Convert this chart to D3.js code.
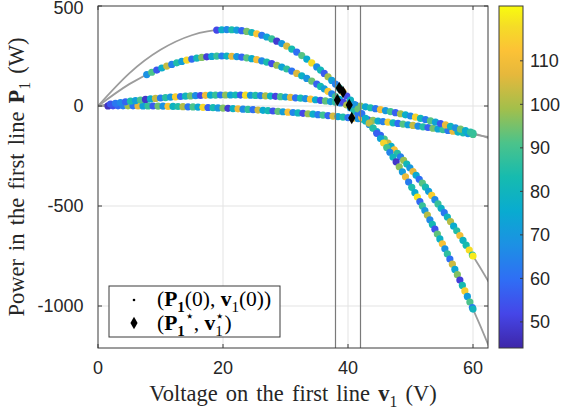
<!DOCTYPE html>
<html>
<head>
<meta charset="utf-8">
<script src="https://cdn.jsdelivr.net/npm/d3@7"></script>
<style>
  body { margin: 0; background: #fff; }
</style>
</head>
<body>
<div id="chart"></div>
<script>
// ---- data ----
const xTicks = [0, 20, 40, 60];
const yTicks = [-1000, -500, 0, 500];
const cTicks = [50, 60, 70, 80, 90, 100, 110];
const xDomain = [0, 62.4];
const yDomain = [-1210, 500];
const cDomain = [44, 122.6];
const markerLines = [38, 42];

// gray reference curves, [v, P]
const curve1 = [[0,0],[5,162.9],[10,280.8],[15,353.7],[20,381.6],[25,364.5],[30,302.4],[35,195.3],[40,43.2],[45,-153.9],[50,-396],[55,-683.1],[60,-1015.2],[62.5,-1198]];
const curve2 = [[0,0],[5,109.4],[10,187.5],[15,234.4],[20,250],[25,234.4],[30,187.5],[35,109.4],[40,0],[45,-140.6],[50,-312.5],[55,-515.6],[60,-750],[62.5,-878.9]];
const curve3 = [[0,0],[5,23.1],[10,40],[15,50.6],[20,55],[25,53.1],[30,45],[35,30.6],[40,10],[45,-16.9],[50,-50],[55,-89.4],[60,-135],[62.5,-160.2]];
const curve4 = [[0,0],[5,0.8],[10,-0.7],[15,-4.5],[20,-10.6],[25,-19],[30,-29.7],[35,-42.7],[40,-58],[45,-75.6],[50,-95.5],[55,-117.7],[60,-142.2],[62.5,-155.3]];

// initial points (v, P, colour value)
const band1 = [[19.0,379.6,52],[19.8,381.3,78],[20.6,381.9,66],[21.4,381.3,84],[22.2,379.6,71],[23.0,376.7,58],[23.8,372.7,95],[24.6,367.5,80],[25.4,361.2,113],[26.2,353.7,62],[27.0,345.1,74],[27.8,335.3,88],[28.6,324.3,49],[29.4,312.2,70],[30.2,299.0,105],[31.0,284.6,83],[31.8,269.0,60],[32.6,252.3,92],[33.4,234.5,76],[34.2,215.5,118],[35.0,195.3,67],
  [35.6,179.4,81],[36.2,162.9,56],[36.8,145.7,99],[37.4,127.9,72],[38.0,109.4,64],[38.6,90.3,86],[39.2,70.6,110],[39.8,50.1,53],[40.4,29.1,79],[41.0,7.4,69],[41.6,-15.0,94],[42.2,-38.0,61],[42.8,-61.6,77],[43.4,-85.9,102],[44.0,-110.9,85],[44.6,-136.5,57],[45.2,-162.7,73],
  [45.7,-185.1,116],[46.2,-207.9,90],[46.7,-231.2,65],[47.2,-254.9,80],[47.7,-279.0,48],[48.2,-303.7,97],[48.7,-328.7,71],[49.2,-354.2,108],[49.7,-380.2,63],[50.2,-406.6,84],[50.7,-433.5,75],
  [51.1,-455.3,119],[51.5,-477.4,59],[51.9,-499.8,88],[52.3,-522.5,70],[52.7,-545.4,101],[53.1,-568.7,66],[53.5,-592.2,82],[53.9,-616.1,54],[54.3,-640.2,93],[54.7,-664.6,78],[55.1,-689.3,112],[55.5,-714.3,68],[55.9,-739.6,87],[56.3,-765.1,60],[56.7,-791.0,104],[57.1,-817.1,74],[57.5,-843.5,96],[57.9,-870.2,50],[58.3,-897.2,83],[58.7,-924.5,115],[59.1,-952.1,71],[59.5,-980.0,91],[59.9,-1008.1,62],[60.0,-1015.2,80]];

const band2 = [[7.8,157.0,68],[8.6,168.8,91],[9.4,179.8,55],[10.2,190.0,77],[11.0,199.4,103],[11.8,208.0,64],[12.6,215.8,85],[13.4,222.8,72],[14.2,229.0,117],[15.0,234.4,59],[15.8,239.0,81],[16.6,242.8,96],[17.4,245.8,50],[18.2,248.0,74],[19.0,249.4,88],[19.8,250.0,63],[20.6,249.8,79],[21.4,248.8,107],[22.2,247.0,70],[23.0,244.4,58],[23.8,241.0,92],[24.6,236.8,76],[25.4,231.8,111],[26.2,226.0,66],[27.0,219.4,84],[27.8,212.0,53],[28.6,203.8,98],[29.4,194.8,73],[30.2,185.0,87],[31.0,174.4,61],[31.8,163.0,106],[32.6,150.8,78],[33.4,137.8,69],[34.2,124.0,94],[35.0,109.4,57],
  [35.6,97.9,83],[36.2,86.0,72],[36.8,73.6,114],[37.4,60.8,65],[38.0,47.5,89],[38.6,33.8,76],[39.2,19.6,52],[39.8,5.0,100],[40.4,-10.1,71],[41.0,-25.6,85],[41.6,-41.6,62],[42.2,-58.0,109],[42.8,-74.9,80],[43.4,-92.2,67],[44.0,-110.0,95],[44.6,-128.2,74],[45.2,-146.9,58],[45.8,-166.0,90],[46.4,-185.6,103],
  [46.9,-202.3,77],[47.4,-219.2,112],[47.9,-236.5,86],[48.4,-254.1,64],[48.9,-272.0,98],[49.4,-290.2,81],[49.9,-308.8,70],[50.4,-327.6,107],[50.9,-346.8,75],[51.4,-366.2,60],[51.9,-386.0,92],[52.4,-406.1,83],[52.9,-426.5,72],[53.4,-447.2,115],[53.9,-468.3,66],[54.4,-489.6,88],[54.9,-511.3,78],[55.4,-533.2,62],[55.9,-555.5,80],[56.4,-578.1,101],[56.9,-601.0,76],[57.4,-624.2,85],[57.9,-647.8,110],[58.4,-671.6,79],[58.9,-695.8,83],[59.4,-720.2,118],[59.9,-745.0,82],[60.0,-750.0,120]];

const band3 = [[2.0,10.0,55],[2.8,13.7,62],[3.6,17.3,66],[4.4,20.7,58],[5.2,23.9,84],[6.0,27.0,72],[6.8,29.9,91],[7.6,32.7,48],[8.4,35.3,77],[9.2,37.7,103],[10.0,40.0,63],[10.8,42.1,86],[11.6,44.1,70],[12.4,45.9,115],[13.2,47.5,59],[14.0,49.0,80],[14.8,50.3,94],[15.6,51.5,67],[16.4,52.5,52],[17.2,53.3,109],[18.0,54.0,75],[18.8,54.5,88],[19.6,54.9,61],[20.4,55.1,97],[21.2,55.1,73],[22.0,55.0,82],[22.8,54.7,56],[23.6,54.3,118],[24.4,53.7,69],[25.2,52.9,85],[26.0,52.0,64],[26.8,50.9,100],[27.6,49.7,78],[28.4,48.3,51],[29.2,46.7,90],[30.0,45.0,72],[30.8,43.1,106],[31.6,41.1,60],[32.4,38.9,83],[33.2,36.5,68],[34.0,34.0,112],[34.8,31.3,76],[35.6,28.5,54],[36.4,25.5,93],[37.2,22.3,71],[38.0,19.0,87],[38.8,15.5,65],[39.6,11.9,104],[40.4,8.1,79],[41.2,4.1,58],[42.0,0.0,96],[42.8,-4.3,74],[43.6,-8.7,84],[44.4,-13.3,62],[45.2,-18.1,111],[46.0,-23.0,70],[46.8,-28.1,89],[47.6,-33.3,57],[48.4,-38.7,99],[49.2,-44.3,77],[50.0,-50.0,66],[50.8,-55.9,116],[51.6,-61.9,81],[52.4,-68.1,63],[53.2,-74.5,92],[54.0,-81.0,73],[54.8,-87.7,55],[55.6,-94.5,108],[56.4,-101.5,80],[57.2,-108.7,68],[58.0,-116.0,95],[58.8,-123.5,76],[59.6,-131.1,86],[60.0,-135.0,88]];

const band4 = [[1.6,0.5,47],[2.4,0.7,53],[3.2,0.8,58],[4.0,0.8,64],[4.8,0.8,99],[5.6,0.7,61],[6.4,0.6,107],[7.2,0.4,72],[8.0,0.2,88],[8.8,-0.1,56],[9.6,-0.5,94],[10.4,-0.9,68],[11.2,-1.4,113],[12.0,-1.9,79],[12.8,-2.5,85],[13.6,-3.2,101],[14.4,-3.9,62],[15.2,-4.7,91],[16.0,-5.5,74],[16.8,-6.4,117],[17.6,-7.4,57],[18.4,-8.4,83],[19.2,-9.5,70],[20.0,-10.6,96],[20.8,-11.8,49],[21.6,-13.0,78],[22.4,-14.3,109],[23.2,-15.7,66],[24.0,-17.1,87],[24.8,-18.6,60],[25.6,-20.2,104],[26.4,-21.8,75],[27.2,-23.4,82],[28.0,-25.1,54],[28.8,-26.9,93],[29.6,-28.8,71],[30.4,-30.7,112],[31.2,-32.6,65],[32.0,-34.6,80],[32.8,-36.7,52],[33.6,-38.8,98],[34.4,-41.0,77],[35.2,-43.3,63],[36.0,-45.6,89],[36.8,-47.9,58],[37.6,-50.4,105],[38.4,-52.9,73],[39.2,-55.4,84],[40.0,-58.0,61],[40.8,-60.7,110],[41.6,-63.4,69],[42.4,-66.2,86],[43.2,-69.0,55],[44.0,-71.9,97],[44.8,-74.9,76],[45.6,-77.9,64],[46.4,-80.9,115],[47.2,-84.1,81],[48.0,-87.3,59],[48.8,-90.5,92],[49.6,-93.8,72],[50.4,-97.2,103],[51.2,-100.6,67],[52.0,-104.1,85],[52.8,-107.6,57],[53.6,-111.3,95],[54.4,-114.9,74],[55.2,-118.6,88],[56.0,-122.4,62],[56.8,-126.3,108],[57.6,-130.2,78],[58.4,-134.1,83],[59.2,-138.1,70],[60.0,-142.2,90]];

// optimal points (v, P)
const optimum = [[38.6,90],[39.2,70],[38.3,30],[40.2,5],[40.6,-60]];

// ---- layout ----
const W = 563, H = 412;
const plot = {left: 98, top: 6, right: 488, bottom: 348};
const cbar = {left: 499, right: 523};

// parula-like colormap
const parula = ["#3e26a8","#4546e8","#2f6ef5","#1d90e4","#09abd0","#16bbaf","#4cc38a","#a3bf4b","#e6b83c","#fcc236","#f5dc27","#f9fb0e"];
const parulaPos = [0, 0.1, 0.2, 0.3, 0.4, 0.5, 0.6, 0.7, 0.8, 0.87, 0.94, 1];

const x = d3.scaleLinear().domain(xDomain).range([plot.left, plot.right]);
const y = d3.scaleLinear().domain(yDomain).range([plot.bottom, plot.top]);
const cNorm = d3.scaleLinear().domain(cDomain).range([0, 1]).clamp(true);
const cmap = d3.scaleLinear().domain(parulaPos).range(parula).interpolate(d3.interpolateRgb);
const color = v => cmap(cNorm(v));

const svg = d3.select("#chart").append("svg")
    .attr("width", W)
    .attr("height", H)
    .style("font-family", "'Liberation Sans', Arial, sans-serif");

svg.append("defs").append("clipPath").attr("id", "plot-clip")
  .append("rect")
    .attr("x", plot.left).attr("y", plot.top)
    .attr("width", plot.right - plot.left)
    .attr("height", plot.bottom - plot.top);

// grid
const grid = svg.append("g").attr("stroke", "#e3e3e3").attr("stroke-width", 1);
xTicks.filter(t => t > xDomain[0]).forEach(t => {
  grid.append("line").attr("x1", x(t)).attr("x2", x(t)).attr("y1", plot.top).attr("y2", plot.bottom);
});
yTicks.filter(t => t < yDomain[1]).forEach(t => {
  grid.append("line").attr("x1", plot.left).attr("x2", plot.right).attr("y1", y(t)).attr("y2", y(t));
});

const inner = svg.append("g").attr("clip-path", "url(#plot-clip)");

// gray curves
const line = d3.line().x(d => x(d[0])).y(d => y(d[1])).curve(d3.curveNatural);
[curve1, curve2, curve3, curve4].forEach(c => {
  inner.append("path")
      .datum(c)
      .attr("d", line)
      .attr("fill", "none")
      .attr("stroke", "#9c9c9c")
      .attr("stroke-width", 1.8);
});

// scatter
[band4, band3, band2, band1].forEach(b => {
  inner.append("g").selectAll("circle")
    .data(b)
    .join("circle")
      .attr("cx", d => x(d[0]))
      .attr("cy", d => y(d[1]))
      .attr("r", 3.6)
      .attr("fill", d => color(d[2]));
});

// vertical marker lines
markerLines.forEach(v => {
  inner.append("line")
      .attr("x1", x(v)).attr("x2", x(v))
      .attr("y1", plot.top).attr("y2", plot.bottom)
      .attr("stroke", "#7a7a7a")
      .attr("stroke-width", 1.2);
});

// optimum diamonds
const diamond = d3.symbol().type(d3.symbolDiamond).size(44);
inner.append("g").selectAll("path")
  .data(optimum)
  .join("path")
    .attr("transform", d => `translate(${x(d[0])},${y(d[1])})`)
    .attr("d", diamond)
    .attr("fill", "#000");

// axes box and ticks (mirrored, inward)
const axisColor = "#3a3a3a";
svg.append("rect")
    .attr("x", plot.left).attr("y", plot.top)
    .attr("width", plot.right - plot.left)
    .attr("height", plot.bottom - plot.top)
    .attr("fill", "none")
    .attr("stroke", axisColor)
    .attr("stroke-width", 1);

const tickLen = 4;
const ticks = svg.append("g").attr("stroke", axisColor).attr("stroke-width", 1);
xTicks.forEach(t => {
  ticks.append("line").attr("x1", x(t)).attr("x2", x(t)).attr("y1", plot.bottom).attr("y2", plot.bottom - tickLen);
  ticks.append("line").attr("x1", x(t)).attr("x2", x(t)).attr("y1", plot.top).attr("y2", plot.top + tickLen);
});
yTicks.forEach(t => {
  ticks.append("line").attr("x1", plot.left).attr("x2", plot.left + tickLen).attr("y1", y(t)).attr("y2", y(t));
  ticks.append("line").attr("x1", plot.right).attr("x2", plot.right - tickLen).attr("y1", y(t)).attr("y2", y(t));
});

// tick labels
svg.append("g").selectAll("text")
  .data(xTicks)
  .join("text")
    .attr("x", d => x(d))
    .attr("y", 374)
    .attr("text-anchor", "middle")
    .attr("font-size", 18)
    .attr("fill", "#262626")
    .text(d => d);

svg.append("g").selectAll("text")
  .data(yTicks)
  .join("text")
    .attr("x", 83.5)
    .attr("y", d => Math.max(y(d), 8))
    .attr("dy", "0.36em")
    .attr("text-anchor", "end")
    .attr("font-size", 18)
    .attr("fill", "#262626")
    .text(d => d);

// rich text helper: parts with optional bold / sub / sup
function richText(sel, parts, size) {
  let shift = 0;
  parts.forEach(p => {
    const target = p.sub ? size * 0.28 : p.sup ? -size * 0.4 : 0;
    const ts = sel.append("tspan").text(p.t).attr("dy", target - shift);
    if (p.dx) ts.attr("dx", p.dx);
    if (p.sub || p.sup) ts.attr("font-size", size * 0.7);
    if (p.b) ts.attr("font-weight", "bold");
    shift = target;
  });
}

const serif = "'Liberation Serif', 'Times New Roman', serif";

// axis labels
const xl = svg.append("text")
    .attr("x", (plot.left + plot.right) / 2)
    .attr("y", 401)
    .attr("text-anchor", "middle")
    .attr("font-family", serif)
    .attr("font-size", 22.5)
    .attr("word-spacing", 2.5)
    .attr("fill", "#262626");
richText(xl, [{t: "Voltage on the first line "}, {t: "v", b: true}, {t: "1", sub: true}, {t: " (V)"}], 22.5);

const yl = svg.append("text")
    .attr("transform", `translate(24,${(plot.top + plot.bottom) / 2}) rotate(-90)`)
    .attr("text-anchor", "middle")
    .attr("font-family", serif)
    .attr("font-size", 22.5)
    .attr("word-spacing", 2.5)
    .attr("fill", "#262626");
richText(yl, [{t: "Power in the first line "}, {t: "P", b: true}, {t: "1", sub: true}, {t: " (W)"}], 22.5);

// legend
const lg = svg.append("g");
lg.append("rect")
    .attr("x", 109).attr("y", 286)
    .attr("width", 171).attr("height", 51)
    .attr("fill", "#fff")
    .attr("stroke", axisColor)
    .attr("stroke-width", 1);
lg.append("circle").attr("cx", 134).attr("cy", 300).attr("r", 1.3).attr("fill", "#000");
lg.append("path").attr("transform", "translate(134,323)").attr("d", diamond).attr("fill", "#000");

const legSize = 21.5;
const l1 = lg.append("text").attr("x", 157).attr("y", 306)
    .attr("font-family", serif).attr("font-size", legSize).attr("fill", "#000");
richText(l1, [{t: "("}, {t: "P", b: true}, {t: "1", sub: true, b: true}, {t: "(0), "}, {t: "v", b: true}, {t: "1", sub: true}, {t: "(0))"}], legSize);

const l2 = lg.append("text").attr("x", 157).attr("y", 330)
    .attr("font-family", serif).attr("font-size", legSize).attr("fill", "#000");
richText(l2, [{t: "("}, {t: "P", b: true}, {t: "1", sub: true, b: true}, {t: "\u22C6", sup: true}, {t: ", "}, {t: "v", b: true}, {t: "1", sub: true}, {t: "\u22C6", sup: true, dx: -7.5}, {t: ")"}], legSize);

// colorbar
const grad = svg.select("defs").append("linearGradient")
    .attr("id", "cbar-grad")
    .attr("x1", 0).attr("y1", 1).attr("x2", 0).attr("y2", 0);
grad.selectAll("stop")
  .data(parulaPos)
  .join("stop")
    .attr("offset", d => d)
    .attr("stop-color", (d, i) => parula[i]);

svg.append("rect")
    .attr("x", cbar.left).attr("y", plot.top)
    .attr("width", cbar.right - cbar.left)
    .attr("height", plot.bottom - plot.top)
    .attr("fill", "url(#cbar-grad)")
    .attr("stroke", axisColor)
    .attr("stroke-width", 1);

const cy = d3.scaleLinear().domain(cDomain).range([plot.bottom, plot.top]);
cTicks.forEach(t => {
  svg.append("line")
      .attr("x1", cbar.right).attr("x2", cbar.right - 3)
      .attr("y1", cy(t)).attr("y2", cy(t))
      .attr("stroke", axisColor);
  svg.append("text")
      .attr("x", 530)
      .attr("y", cy(t))
      .attr("dy", "0.36em")
      .attr("font-size", 18)
      .attr("fill", "#262626")
      .text(t);
});
</script>
</body>
</html>
